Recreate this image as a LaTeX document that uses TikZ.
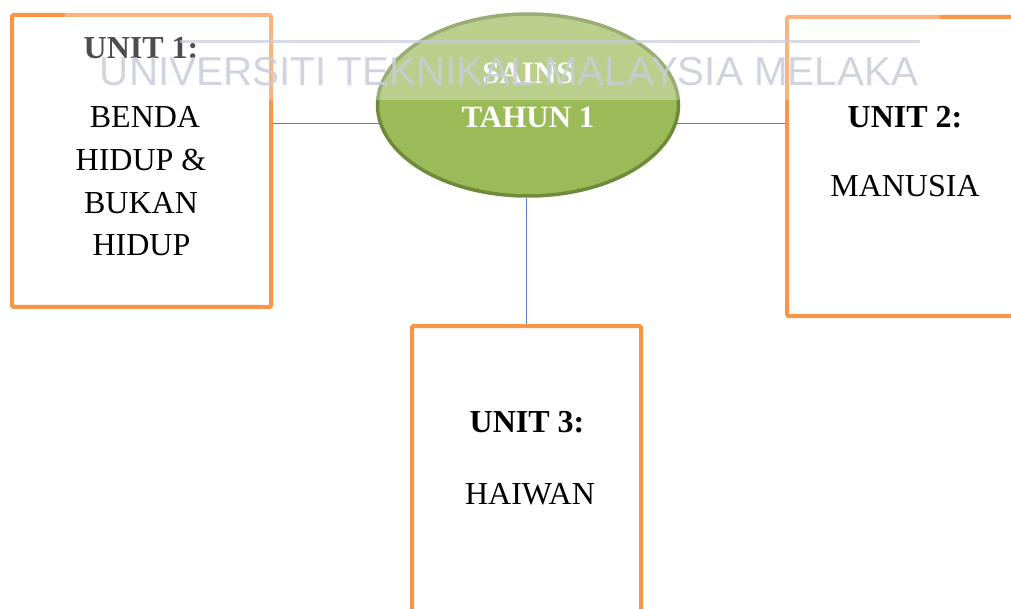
\documentclass[tikz,border=0pt]{standalone}
\usepackage{fontspec}
\setmainfont{Liberation Serif}
\newfontfamily\wmfont{Liberation Sans}
\usetikzlibrary{shapes.geometric}
\definecolor{boxorange}{HTML}{F79646}
\definecolor{leafgreen}{HTML}{9BBB59}
\definecolor{leafdark}{HTML}{6E8A3A}
\definecolor{linkblue}{HTML}{4F81BD}
\definecolor{wmgray}{HTML}{C9CDD9}
\tikzset{
  unitbox/.style={draw=boxorange, line width=4pt, fill=white, rounded corners=1.5pt, inner sep=0pt},
  topic/.style={ellipse, draw=leafdark, line width=3.5pt, fill=leafgreen, inner sep=0pt},
  link/.style={draw=linkblue, line width=1.5pt},
  lbl/.style={anchor=base, inner sep=0pt, font=\fontsize{32}{38}\selectfont},
  lblb/.style={lbl, font=\fontsize{32}{38}\selectfont\bfseries},
  toplbl/.style={anchor=base, inner sep=0pt, text=white, font=\fontsize{31}{37}\selectfont\bfseries}
}
\begin{document}
\begin{tikzpicture}[x=1pt,y=-1pt]
\clip (0,0) rectangle (1011,609);
\fill[white] (0,0) rectangle (1011,609);
% boxes
\node[unitbox, minimum width=259pt, minimum height=292pt] (b1) at (141.5,161) {};
\node[unitbox, minimum width=236pt, minimum height=299pt] (b2) at (905,166.5) {};
\node[unitbox, minimum width=229pt, minimum height=330pt] (b3) at (526.5,491) {};
% central ellipse
\node[topic, minimum width=301pt, minimum height=182pt] (e) at (528,105) {};
% connectors
\draw[link] (e.187) -- (e.187 -| b1.east);
\draw[link] (e.353) -- (e.353 -| b2.west);
\draw[link] (e.south -| b3.north) -- (b3.north);
% labels
\node[lblb] (u1) at (141,59) {UNIT 1:};
\node[lbl] (u1a) at (145,128) {BENDA};
\node[lbl] (u1b) at (141,171) {HIDUP \&};
\node[lbl] (u1c) at (141,214) {BUKAN};
\node[lbl] (u1d) at (141.5,256) {HIDUP};
\node[lblb] (u2) at (905,128) {UNIT 2:};
\node[lbl] (u2a) at (905,197) {MANUSIA};
\node[lblb] (u3) at (527,432) {UNIT 3:};
\node[lbl] (u3a) at (530,504) {HAIWAN};
\node[toplbl] (t1) at (528,83.5) {SAINS};
\node[toplbl] (t2) at (528,128) {TAHUN 1};
% watermark overlay
\fill[white, opacity=0.3] (65,0) rectangle (940,100);
\draw[wmgray, line width=3pt, opacity=0.7] (180,42) -- (920,42);
\node[anchor=base, inner sep=0pt, text=wmgray, opacity=0.85] (wm) at (509,86)
  {\resizebox{818pt}{!}{\wmfont\fontsize{39}{44}\selectfont UNIVERSITI TEKNIKAL MALAYSIA MELAKA}};
\end{tikzpicture}
\end{document}
